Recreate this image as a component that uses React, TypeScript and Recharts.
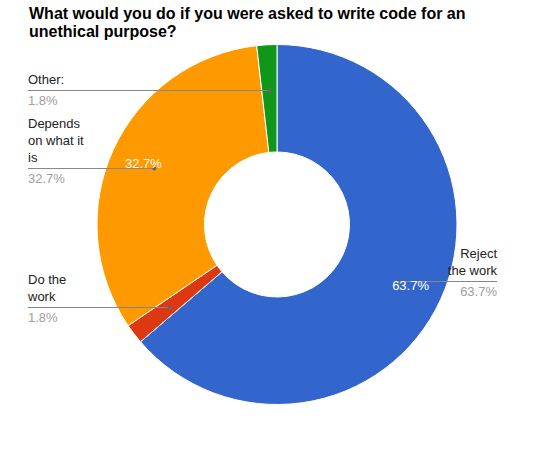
import React from 'react'
import { PieChart, Pie, Cell } from 'recharts'

const categories = ['Reject the work', 'Do the work', 'Depends on what it is', 'Other:']
const shares = [63.7, 1.8, 32.7, 1.8]
const labelLines = [['Reject', 'the work'], ['Do the', 'work'], ['Depends', 'on what it', 'is'], ['Other:']]
const COLORS = ['#3366cc', '#dc3912', '#ff9900', '#109618']
const TITLE = ['What would you do if you were asked to write code for an', 'unethical purpose?']

const FONT = '"Liberation Sans", Arial, sans-serif'
const RAD = Math.PI / 180

const renderLabel = (p: any) => {
  const { cx, cy, midAngle, index, value } = p
  const dx = Math.cos(-midAngle * RAD)
  const dy = Math.sin(-midAngle * RAD)
  const px = cx + 135 * dx
  const py = Math.round(cy + 135 * dy) + 0.5
  const tx = cx + 147 * dx
  const ty = cy + 147 * dy
  const right = dx > 0
  const endX = right ? 497 : 28
  const lines = labelLines[index]
  const pct = value.toFixed(1) + '%'
  return (
    <g key={'lbl' + index}>
      <line x1={px} y1={py} x2={endX} y2={py} stroke="#888" strokeWidth={1} />
      <circle cx={px} cy={py} r={2} fill="#666" />
      {value > 5 && (
        <text x={tx} y={ty} fill="#fff" fontSize={13} fontFamily={FONT} textAnchor="middle" dominantBaseline="central">
          {pct}
        </text>
      )}
      {lines.map((t, i) => (
        <text key={i} x={endX} y={py - 6.5 - (lines.length - 1 - i) * 17} fill="#222" fontSize={13}
          fontFamily={FONT} textAnchor={right ? 'end' : 'start'}>
          {t}
        </text>
      ))}
      <text x={endX} y={py + 14.5} fill="#9e9e9e" fontSize={13} fontFamily={FONT} textAnchor={right ? 'end' : 'start'}>
        {pct}
      </text>
    </g>
  )
}

export default function App() {
  const data = categories.map((name, i) => ({ name, value: shares[i] }))
  return (
    <div style={{ position: 'absolute', left: 0, top: 0, width: 553, height: 450, background: '#fff' }}>
      <div style={{ position: 'absolute', left: 29, top: 5, fontFamily: FONT, fontWeight: 'bold', fontSize: 16, lineHeight: '18px', color: '#000', whiteSpace: 'nowrap' }}>
        {TITLE[0]}<br />{TITLE[1]}
      </div>
      <PieChart width={553} height={450} margin={{ top: 0, right: 0, bottom: 0, left: 0 }}>
        <Pie data={data} dataKey="value" nameKey="name" cx={277} cy={224.5} innerRadius={72.5} outerRadius={180}
          startAngle={90} endAngle={-270} stroke="#fff" strokeWidth={1} label={renderLabel} labelLine={false}
          isAnimationActive={false}>
          {data.map((_, i) => <Cell key={i} fill={COLORS[i % COLORS.length]} />)}
        </Pie>
      </PieChart>
    </div>
  )
}
